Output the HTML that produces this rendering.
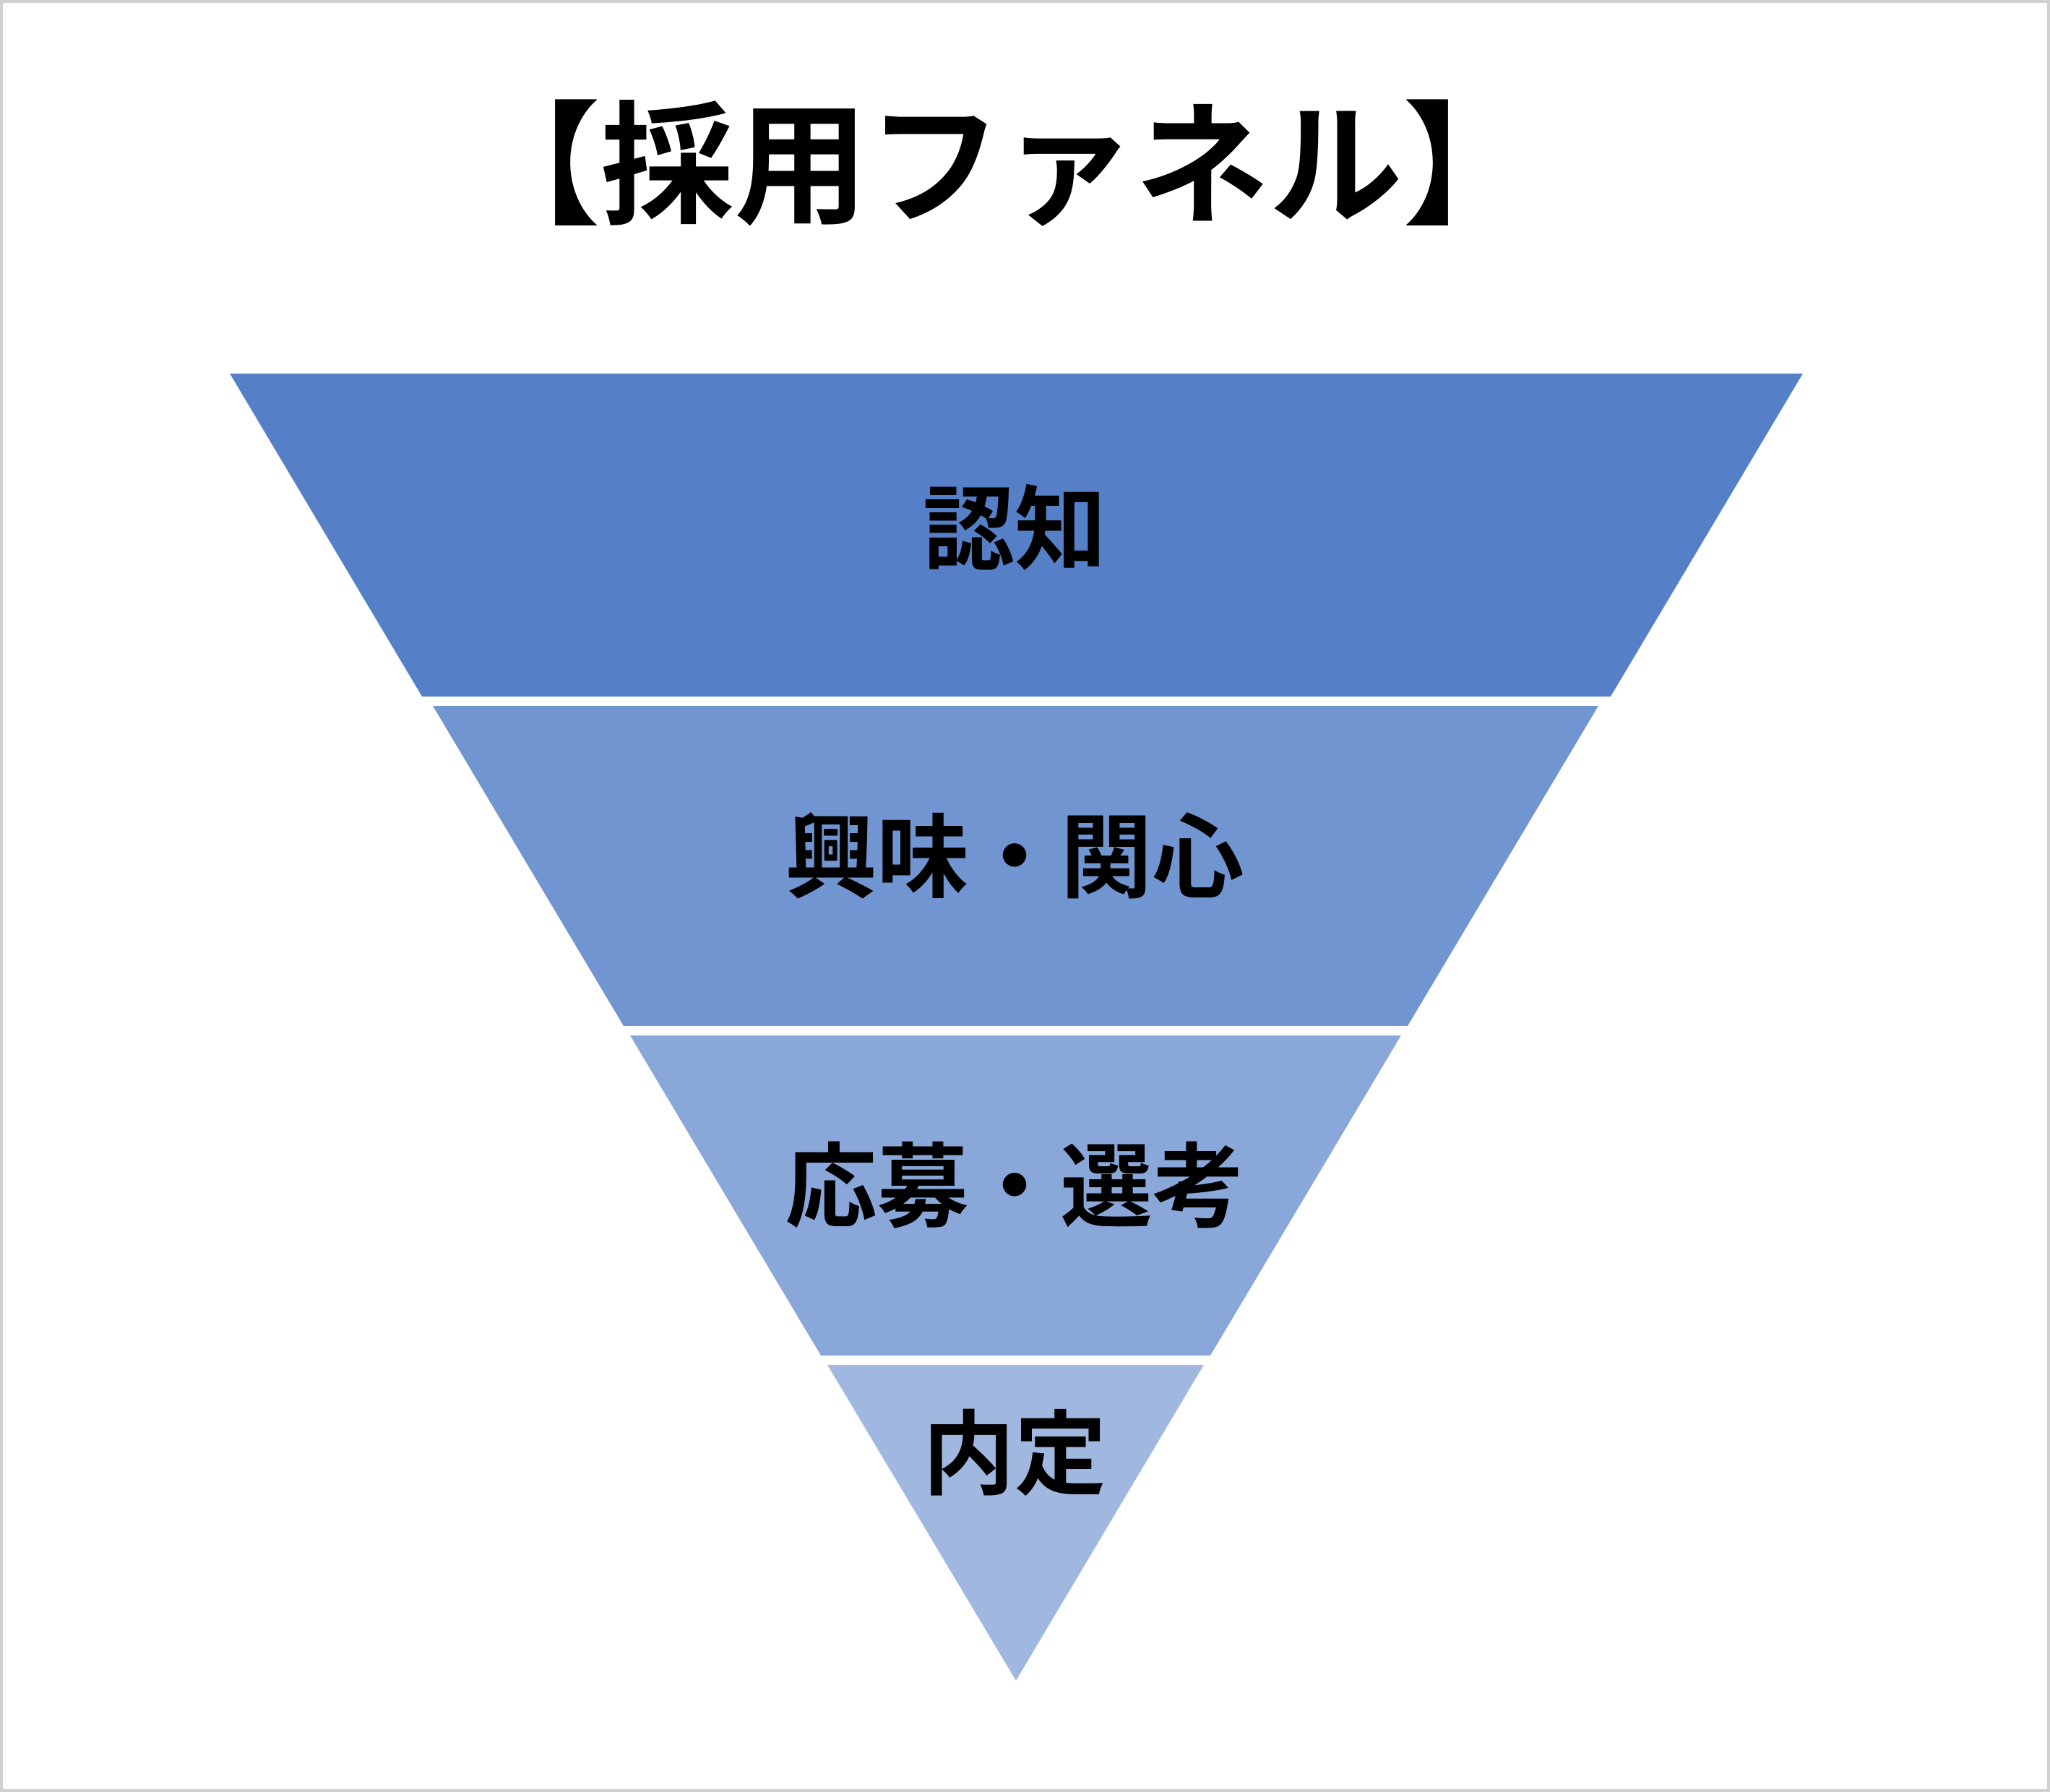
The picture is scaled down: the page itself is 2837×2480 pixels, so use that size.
<!DOCTYPE html>
<html><head><meta charset="utf-8"><style>
html,body{margin:0;padding:0;background:#fff}
svg{display:block}
text{font-family:"Liberation Sans","Noto Sans CJK JP",sans-serif;font-weight:bold;fill:#000}
</style></head><body>
<svg width="2837" height="2480" viewBox="0 0 2837 2480" xmlns="http://www.w3.org/2000/svg">
<rect x="2" y="2" width="2833" height="2476" fill="#fff" stroke="#d0d0d0" stroke-width="4"/>
<text x="1386" y="295" font-size="185" text-anchor="middle">【採用ファネル】</text>
<polygon points="318,517 2495,517 2229,964 584,964" fill="#5580C8"/>
<polygon points="599,977 2212,977 1948,1420 863,1420" fill="#7195D1"/>
<polygon points="872,1433 1939,1433 1675,1876 1136,1876" fill="#8AA7DA"/>
<polygon points="1145,1889 1666,1889 1406,2326" fill="#A0B8E0"/>
<g font-size="127" text-anchor="middle">
<text x="1404" y="778">認知</text>
<text x="1404" y="1232">興味・関心</text>
<text x="1404" y="1688">応募・選考</text>
<text x="1404" y="2058">内定</text>
</g>
</svg>
</body></html>
